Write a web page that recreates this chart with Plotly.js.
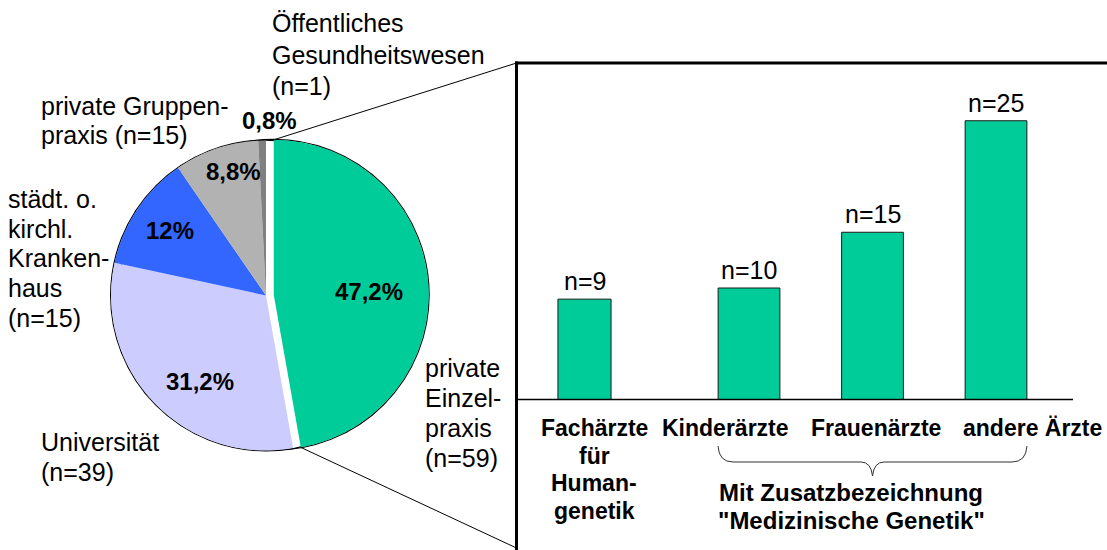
<!DOCTYPE html>
<html>
<head>
<meta charset="utf-8">
<script src="https://cdn.plot.ly/plotly-3.0.1.min.js"></script>
<style>html,body{margin:0;padding:0;background:#fff;}#chart{width:1107px;height:550px;}</style>
</head>
<body>
<div id="chart"></div>
<script>
// ---------- DATA ----------
const pieLabels = ['private Einzelpraxis', 'Universität', 'städt. o. kirchl. Krankenhaus', 'private Gruppenpraxis', 'Öffentliches Gesundheitswesen'];
const pieValues = [59, 39, 15, 11, 1];
const pieLabelLines = [
  ['private', 'Einzel-', 'praxis', '(n=59)'],
  ['Universität', '(n=39)'],
  ['städt. o.', 'kirchl.', 'Kranken-', 'haus', '(n=15)'],
  ['private Gruppen-', 'praxis (n=15)'],
  ['Öffentliches', 'Gesundheitswesen', '(n=1)']
];
const barCategories = ['Fachärzte für Humangenetik', 'Kinderärzte', 'Frauenärzte', 'andere Ärzte'];
const barValues = [9, 10, 15, 25];
const barTickLines = [['Fachärzte', 'für', 'Human-', 'genetik'], ['Kinderärzte'], ['Frauenärzte'], ['andere Ärzte']];
const groupLabelLines = ['Mit Zusatzbezeichnung', '"Medizinische Genetik"'];

// ---------- LAYOUT / STYLE ----------
const W = 1107, H = 550;
const px = x => x / W;
const py = y => 1 - y / H;
const FONT = 'Liberation Sans, Arial, Helvetica, sans-serif';
const pieColors = ['#00CC99', '#CCCCFF', '#3366FF', '#B2B2B2', '#808080'];
const PIE_CX = 266, PIE_CY = 295.5, PIE_R = 155, PULL = 0.05;
const pieLabelPos = [
  {x: 424, y: 368, dy: 30},
  {x: 40, y: 442, dy: 29.5},
  {x: 7, y: 199, dy: 29.7},
  {x: 40, y: 106, dy: 29},
  {x: 271, y: 23, dy: 31.7}
];
const pctPos = [[369, 291], [200, 381], [170, 231], [233, 171], [269, 121]];
const barTickPos = [[594, 428], [725, 428], [876, 428], [1032, 428]];
const BAR_TICK_DY = 27.5;
const groupLabelPos = [851, 492, 28];
const BASE_Y = 399.5, PX_PER_UNIT = 11.15, Y_MAX = 30;

// pie domain so that radius/center match
const half = PIE_R * (1 + PULL);
const pieDomain = {
  x: [px(PIE_CX - half), px(PIE_CX + half)],
  y: [py(PIE_CY + half), py(PIE_CY - half)]
};

const total = pieValues.reduce((a, b) => a + b, 0);
function fmtPct(v) {
  const p = Math.round(v / total * 1000) / 10;
  const s = (p % 1 === 0) ? String(p) : p.toFixed(1);
  return s.replace('.', ',') + '%';
}

const annotations = [];
function addLines(lines, x, y0, dy, anchor, font) {
  lines.forEach((t, i) => {
    annotations.push({
      xref: 'paper', yref: 'paper', x: px(x), y: py(y0 + i * dy),
      xanchor: anchor, yanchor: 'middle', text: t, showarrow: false,
      font: font, borderpad: 0
    });
  });
}
const regFont = {family: FONT, size: 25, color: '#000'};
const boldPct = {family: FONT, size: 24, color: '#000', weight: 'bold'};
const boldCat = {family: FONT, size: 23, color: '#000', weight: 'bold'};
const boldGrp = {family: FONT, size: 24, color: '#000', weight: 'bold'};

pieLabelLines.forEach((lines, i) => addLines(lines, pieLabelPos[i].x, pieLabelPos[i].y, pieLabelPos[i].dy, 'left', regFont));
pieValues.forEach((v, i) => addLines(['<b>' + fmtPct(v) + '</b>'], pctPos[i][0], pctPos[i][1], 0, 'center', boldPct));
barTickLines.forEach((lines, i) => addLines(lines.map(t => '<b>' + t + '</b>'), barTickPos[i][0], barTickPos[i][1], BAR_TICK_DY, 'center', boldCat));
addLines(groupLabelLines.map(t => '<b>' + t + '</b>'), groupLabelPos[0], groupLabelPos[1], groupLabelPos[2], 'center', boldGrp);

barValues.forEach((v, i) => {
  annotations.push({
    xref: i === 0 ? 'x' : 'x2', yref: 'y', x: barCategories[i], y: v,
    yanchor: 'middle', xanchor: 'center', yshift: 18, text: 'n=' + v,
    showarrow: false, font: regFont
  });
});

// geometry of pulled slice
const angs = [];
let acc = 0;
pieValues.forEach(v => { const a0 = acc / total * 2 * Math.PI; acc += v; angs.push([a0, acc / total * 2 * Math.PI]); });
const mid0 = (angs[0][0] + angs[0][1]) / 2;
const offX = PULL * PIE_R * Math.sin(mid0), offY = -PULL * PIE_R * Math.cos(mid0);
const gcx = PIE_CX + offX, gcy = PIE_CY + offY;
const gTop = [gcx + PIE_R * Math.sin(angs[0][0]), gcy - PIE_R * Math.cos(angs[0][0])];
const gEnd = [gcx + PIE_R * Math.sin(angs[0][1]), gcy - PIE_R * Math.cos(angs[0][1])];

const BOX_L = 516.5, BOX_T = 63;
const P = (x, y) => px(x) + ',' + py(y);
const shapes = [
  {type: 'circle', xref: 'paper', yref: 'paper', layer: 'below', x0: px(PIE_CX - PIE_R - 0.4), x1: px(PIE_CX + PIE_R + 0.4), y0: py(PIE_CY + PIE_R + 0.4), y1: py(PIE_CY - PIE_R - 0.4), line: {color: '#000', width: 1.2}},
  {type: 'circle', xref: 'paper', yref: 'paper', layer: 'below', x0: px(gcx - PIE_R - 0.4), x1: px(gcx + PIE_R + 0.4), y0: py(gcy + PIE_R + 0.4), y1: py(gcy - PIE_R - 0.4), line: {color: '#000', width: 1.2}},
  {type: 'line', xref: 'paper', yref: 'paper', x0: px(gTop[0]), y0: py(gTop[1]), x1: px(BOX_L), y1: py(BOX_T), line: {color: '#000', width: 1}},
  {type: 'line', xref: 'paper', yref: 'paper', x0: px(gEnd[0]), y0: py(gEnd[1]), x1: px(BOX_L), y1: py(548), line: {color: '#000', width: 1}},
  {type: 'line', xref: 'paper', yref: 'paper', x0: px(BOX_L), y0: py(BOX_T - 1.5), x1: px(BOX_L), y1: py(552), line: {color: '#000', width: 3}},
  {type: 'line', xref: 'paper', yref: 'paper', x0: px(BOX_L - 1.5), y0: py(BOX_T), x1: px(1110), y1: py(BOX_T), line: {color: '#000', width: 3}},
  {type: 'line', xref: 'paper', yref: 'paper', x0: px(BOX_L), y0: py(BASE_Y), x1: px(1073), y1: py(BASE_Y), line: {color: '#000', width: 1.5}},
  {type: 'path', xref: 'paper', yref: 'paper', line: {color: '#333', width: 1},
   path: 'M' + P(718, 446) + ' Q' + P(719, 462) + ' ' + P(733, 462) + ' L' + P(861, 462) + ' Q' + P(871, 462) + ' ' + P(872.5, 476) +
         ' Q' + P(874, 462) + ' ' + P(884, 462) + ' L' + P(1012, 462) + ' Q' + P(1026, 462) + ' ' + P(1027, 446)}
];

const data = [
  {
    type: 'pie', values: pieValues, labels: pieLabels, sort: false, direction: 'clockwise', rotation: 0,
    pull: pieValues.map((v, i) => i === 0 ? PULL : 0),
    marker: {colors: pieColors, line: {width: 0}}, textinfo: 'none', hoverinfo: 'none',
    domain: pieDomain, showlegend: false
  },
  {
    type: 'bar', x: [barCategories[0]], y: [barValues[0]], xaxis: 'x', yaxis: 'y', width: 0.43,
    marker: {color: '#00CC99', line: {color: '#1a1a1a', width: 1}}, hoverinfo: 'none', showlegend: false
  },
  {
    type: 'bar', x: barCategories.slice(1), y: barValues.slice(1), xaxis: 'x2', yaxis: 'y',
    marker: {color: '#00CC99', line: {color: '#1a1a1a', width: 1}}, hoverinfo: 'none', showlegend: false
  }
];

const axisOff = {showgrid: false, zeroline: false, showline: false, showticklabels: false, ticks: '', fixedrange: true};
const layout = {
  width: W, height: H,
  margin: {l: 0, r: 0, t: 0, b: 0, pad: 0},
  paper_bgcolor: '#fff', plot_bgcolor: 'rgba(0,0,0,0)',
  font: {family: FONT, color: '#000'},
  bargap: 0.5,
  showlegend: false,
  xaxis: Object.assign({type: 'category', anchor: 'y', domain: [px(584.5 - 61.75), px(584.5 + 61.75)]}, axisOff),
  xaxis2: Object.assign({type: 'category', anchor: 'y', domain: [px(749 - 61.75), px(996 + 61.75)]}, axisOff),
  yaxis: Object.assign({anchor: 'x', range: [0, Y_MAX], domain: [py(BASE_Y), py(BASE_Y - Y_MAX * PX_PER_UNIT)]}, axisOff),
  annotations: annotations,
  shapes: shapes
};

Plotly.newPlot('chart', data, layout, {staticPlot: true, displayModeBar: false});
</script>
</body>
</html>
